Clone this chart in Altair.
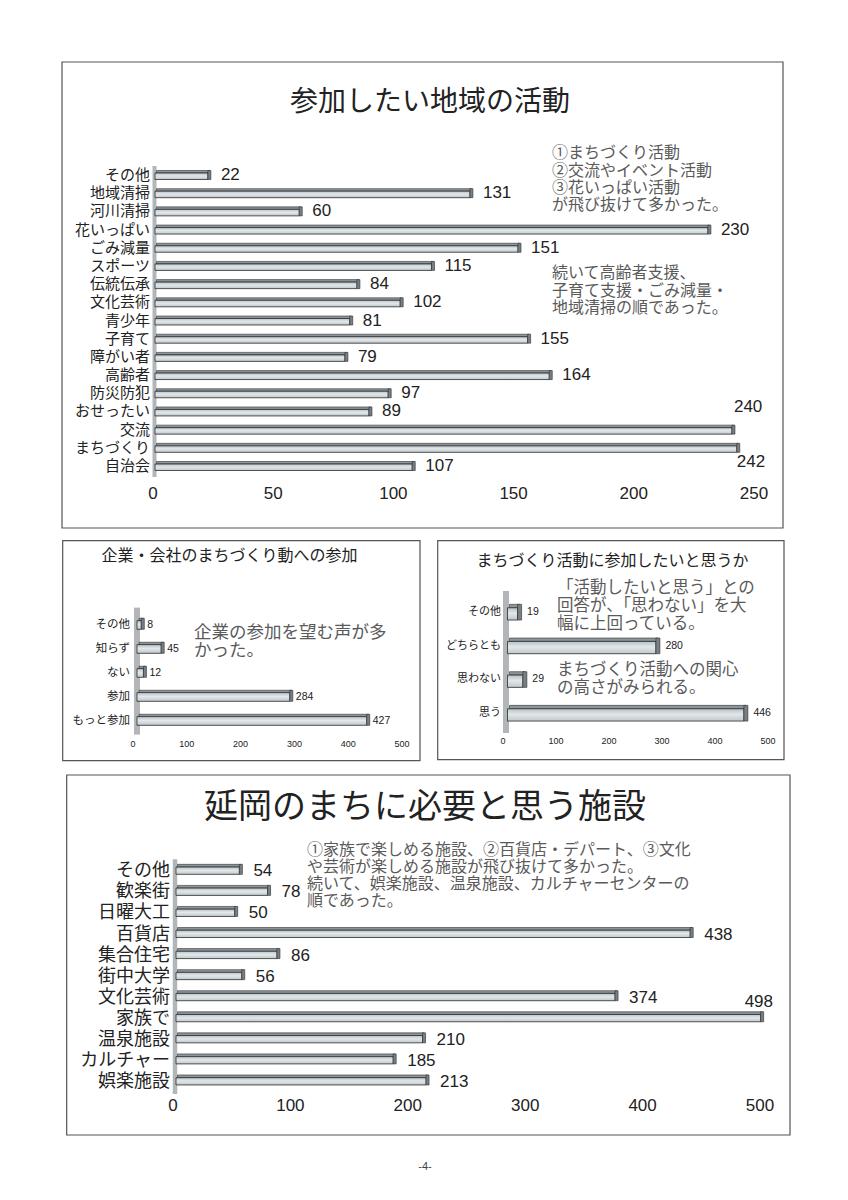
import altair as alt
import pandas as pd

# ---------------- data ----------------
cats1 = ["その他", "地域清掃", "河川清掃", "花いっぱい", "ごみ減量", "スポーツ", "伝統伝承", "文化芸術",
         "青少年", "子育て", "障がい者", "高齢者", "防災防犯", "おせったい", "交流", "まちづくり", "自治会"]
vals1 = [22, 131, 60, 230, 151, 115, 84, 102, 81, 155, 79, 164, 97, 89, 240, 242, 107]
ticks1 = [0, 50, 100, 150, 200, 250]

cats2 = ["その他", "知らず", "ない", "参加", "もっと参加"]
vals2 = [8, 45, 12, 284, 427]
ticks2 = [0, 100, 200, 300, 400, 500]

cats3 = ["その他", "どちらとも", "思わない", "思う"]
vals3 = [19, 280, 29, 446]
ticks3 = [0, 100, 200, 300, 400, 500]

cats4 = ["その他", "歓楽街", "日曜大工", "百貨店", "集合住宅", "街中大学", "文化芸術", "家族で",
         "温泉施設", "カルチャー", "娯楽施設"]
vals4 = [54, 78, 50, 438, 86, 56, 374, 498, 210, 185, 213]
ticks4 = [0, 100, 200, 300, 400, 500]

title1 = "参加したい地域の活動"
note1a = ["①まちづくり活動", "②交流やイベント活動", "③花いっぱい活動", "が飛び抜けて多かった。"]
note1b = ["続いて高齢者支援、", "子育て支援・ごみ減量・", "地域清掃の順であった。"]
title2 = "企業・会社のまちづくり動への参加"
note2 = ["企業の参加を望む声が多", "かった。"]
title3 = "まちづくり活動に参加したいと思うか"
note3a = ["「活動したいと思う」との", "回答が、「思わない」を大", "幅に上回っている。"]
note3b = ["まちづくり活動への関心", "の高さがみられる。"]
title4 = "延岡のまちに必要と思う施設"
note4 = ["①家族で楽しめる施設、②百貨店・デパート、③文化",
         "や芸術が楽しめる施設が飛び抜けて多かった。",
         "続いて、娯楽施設、温泉施設、カルチャーセンターの",
         "順であった。"]
page_no = "-4-"

# ---------------- style ----------------
JP = "Noto Sans CJK JP"
NUM = "Liberation Sans"
INK = "#222222"
NOTE = "#5a5a5a"
GRAD = alt.Gradient(
    gradient="linear", x1=0, x2=0, y1=0, y2=1,
    stops=[alt.GradientStop(offset=0, color="#b8c2c7"),
           alt.GradientStop(offset=0.45, color="#e2e7e9"),
           alt.GradientStop(offset=1, color="#c0c9ce")])

ONE = alt.Data(values=[{}])


def panel(cats, vals, ticks, xr, yr, g, specials=()):
    df = pd.DataFrame({"c": cats, "v": vals})
    tk = pd.DataFrame({"t": ticks})
    xs = alt.Scale(domain=[ticks[0], ticks[-1]], range=xr, nice=False, zero=True)
    ys = alt.Scale(domain=cats, range=yr, paddingInner=0, paddingOuter=0)

    def X(f):
        return alt.X(f, type="quantitative", scale=xs, axis=None)

    def Y(f):
        return alt.Y(f, type="nominal", scale=ys, axis=None)

    X0 = alt.X(datum=0, type="quantitative", scale=xs, axis=None)

    wall = alt.Chart(ONE).mark_rule(
        strokeWidth=g["ww"], color="#b3b6b8", xOffset=g["wx"],
        yOffset=g["wy1"], y2Offset=g["wy2"]).encode(
        x=X0,
        y=alt.Y(datum=cats[0], type="nominal", scale=ys, axis=None),
        y2=alt.Y2(datum=cats[-1]))

    top = alt.Chart(df).mark_bar(
        height=g["th"], yOffset=g["tdy"], xOffset=g["bx"] + g["ts"], x2Offset=g["bx"] + g["ts"],
        fill="#8c959a", stroke="#333333", strokeWidth=0.6).encode(x=X("v"), y=Y("c"))

    front = alt.Chart(df).mark_bar(
        height=g["fh"], yOffset=g["fdy"], xOffset=g["bx"], x2Offset=g["bx"],
        fill=GRAD, stroke="#2b2b2b", strokeWidth=0.8).encode(x=X("v"), y=Y("c"))

    cap = alt.Chart(df).mark_bar(
        height=g["ch"], yOffset=g["cdy"], xOffset=g["bx"], x2Offset=g["bx"] + g["cw"],
        fill="#798085", stroke="#2b2b2b", strokeWidth=0.6).encode(
        x=X("v"), x2=alt.X2("v"), y=Y("c"))

    spec_names = [s[0] for s in specials]
    vfilter = " && ".join(["datum.c != '%s'" % s for s in spec_names]) or "true"
    vlab = alt.Chart(df).transform_filter(vfilter).mark_text(
        align="left", baseline="middle", dx=g["vdx"], font=NUM, fontSize=g["vfs"], color=INK).encode(
        x=X("v"), y=Y("c"), text="v:Q")

    layers = [wall, top, front, cap, vlab]
    for name, dx, dy in specials:
        layers.append(alt.Chart(df).transform_filter("datum.c == '%s'" % name).mark_text(
            align="left", baseline="middle", dx=dx, dy=dy, font=NUM, fontSize=g["vfs"], color=INK).encode(
            x=X("v"), y=Y("c"), text="v:Q"))

    clab = alt.Chart(df).mark_text(
        align="right", baseline="middle", dx=g["cdx"], font=JP, fontSize=g["cfs"], color=INK).encode(
        x=X0, y=Y("c"), text="c:N")
    tlab = alt.Chart(tk).mark_text(
        align="center", baseline="middle", font=NUM, fontSize=g["tfs"], color=INK).encode(
        x=X("t"), y=alt.value(g["ty"]), text="t:Q")
    layers += [clab, tlab]
    return alt.layer(*layers)


g1 = dict(ww=4, wx=1.5, wy1=-9, wy2=11, th=2.5, tdy=-3.25, ts=1.5, fh=6.5, fdy=1.25,
          ch=9, cdy=0, cw=3, bx=2, vdx=15, vfs=17, cdx=-3, cfs=15, tfs=17, ty=486)
g2 = dict(ww=6, wx=4, wy1=-17, wy2=14, th=2.5, tdy=-5.1, ts=2, fh=8.7, fdy=0.35,
          ch=11, cdy=-0.8, cw=3, bx=4, vdx=10, vfs=10.5, cdx=-3, cfs=11.5, tfs=9, ty=736)
g3 = dict(ww=6, wx=3, wy1=-21, wy2=20, th=3.4, tdy=-6, ts=2, fh=12.3, fdy=1.85,
          ch=15.7, cdy=0.15, cw=4, bx=4.5, vdx=14, vfs=10.5, cdx=-2, cfs=11, tfs=9, ty=733)
g4 = dict(ww=4.5, wx=2, wy1=-12, wy2=12, th=2.7, tdy=-5.65, ts=1.5, fh=7.3, fdy=-0.65,
          ch=10, cdy=-2, cw=3, bx=3, vdx=17, vfs=17, cdx=-3, cfs=18, tfs=17, ty=1098)

p1 = panel(cats1, vals1, ticks1, [145, 746], [157.9, 467.1], g1,
           specials=[("交流", 4, -23), ("まちづくり", 2, 14)])
p2 = panel(cats2, vals2, ticks2, [125, 394], [604.6, 724.6], g2)
p3 = panel(cats3, vals3, ticks3, [495, 760], [587.2, 721.9], g3)
p4 = panel(cats4, vals4, ticks4, [165, 752], [852.8, 1084.5], g4,
           specials=[("家族で", -13, -17)])


def frame(x1, x2, y1, y2):
    return alt.Chart(ONE).mark_rect(filled=False, stroke="#555555", strokeWidth=1.2).encode(
        x=alt.value(x1), x2=alt.value(x2), y=alt.value(y1), y2=alt.value(y2))


def label(txt, x, y, size, color=INK, align="center", lh=None, font=JP):
    kw = dict(text=txt, font=font, fontSize=size, color=color, align=align, baseline="middle")
    if lh is not None:
        kw["lineHeight"] = lh
    return alt.Chart(ONE).mark_text(**kw).encode(x=alt.value(x), y=alt.value(y))


frames = [frame(54, 775, 54, 520), frame(54.7, 412, 532.7, 752.7),
          frame(429.7, 776, 532.7, 751.7), frame(58.7, 782, 767, 1127)]

texts = [
    label(title1, 422, 95, 28),
    label(note1a, 544, 145.3, 16, NOTE, "left", 17.2),
    label(note1b, 544, 265.3, 16, NOTE, "left", 17.5),
    label(title2, 221.5, 548, 16),
    label(note2, 186, 625, 17.5, NOTE, "left", 18),
    label(title3, 604.5, 553, 16),
    label(note3a, 549, 580, 16.5, NOTE, "left", 18),
    label(note3b, 549, 662.3, 16.5, NOTE, "left", 17.5),
    label(title4, 417, 800, 34),
    label(note4, 299, 842.3, 16, NOTE, "left", 17),
    label(page_no, 417, 1159, 11, "#444444", font=NUM),
]

chart = alt.layer(*frames, p1, p2, p3, p4, *texts).resolve_scale(
    x="independent", y="independent"
).properties(
    width=832, height=1184, padding=0,
    autosize=alt.AutoSizeParams(type="none"),
    background="white",
).configure_view(stroke=None)

chart.save("out.html", embed_options={"renderer": "svg", "actions": False})
